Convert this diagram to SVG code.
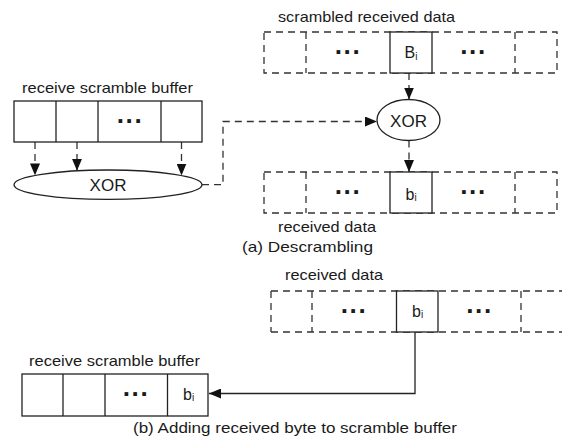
<svg xmlns="http://www.w3.org/2000/svg" width="562" height="442" viewBox="0 0 562 442">
<style>
.bg{fill:#fff}
.s{fill:none;stroke:#222;stroke-width:1.3}
.cell{fill:#fff;stroke:#222;stroke-width:1.3}
.d{fill:none;stroke:#333;stroke-width:1.3;stroke-dasharray:7 5}
.t{font-family:"Liberation Sans",Arial,sans-serif;font-size:15px;fill:#1a1a1a}
.big{font-size:16px}
.xor{font-size:17px}
.dots{font-family:"Liberation Sans",Arial,sans-serif;font-weight:bold;font-size:26px;letter-spacing:0.2px;fill:#1a1a1a;text-anchor:middle}
.c{text-anchor:middle}
.sub{font-size:10px}
</style>
<defs>
<marker id="ah" markerUnits="userSpaceOnUse" markerWidth="12" markerHeight="10" refX="12" refY="5" orient="auto">
<path d="M0,0 L12,5 L0,10 z" fill="#111"/>
</marker>
</defs>
<rect class="bg" x="0" y="0" width="562" height="442"/>

<g id="connectors">
<path class="d" d="M35,142 V175.4" marker-end="url(#ah)"/>
<path class="d" d="M77,142 V170.8" marker-end="url(#ah)"/>
<path class="d" d="M181.5,142 V175.5" marker-end="url(#ah)"/>
<path class="d" d="M202,184.7 H223 V121.5 H377" marker-end="url(#ah)"/>
<path class="d" d="M409,73 V99.5" marker-end="url(#ah)"/>
<path class="d" d="M409,140.5 V172" marker-end="url(#ah)"/>
<path class="s" d="M415,332 V393.5 H209" marker-end="url(#ah)"/>
</g>

<g id="scrambled-received-data">
<text class="t" x="278" y="22" textLength="177" lengthAdjust="spacingAndGlyphs">scrambled received data</text>
<rect class="d" x="264" y="32" width="293" height="41"/>
<line class="d" x1="306" y1="32" x2="306" y2="73"/>
<line class="d" x1="515" y1="32" x2="515" y2="73"/>
<text class="dots" x="348" y="61">···</text>
<text class="dots" x="473.5" y="61">···</text>
<rect class="cell" x="390" y="32" width="42" height="41"/>
<text class="t big" x="404.5" y="58.3">B<tspan class="sub" dy="1.2">i</tspan></text>
</g>

<g id="xor-top">
<ellipse class="cell" cx="408.5" cy="120" rx="31.5" ry="20.5"/>
<text class="t c xor" x="408.5" y="126.5">XOR</text>
</g>

<g id="received-data-a">
<rect class="d" x="264" y="172" width="293" height="41"/>
<line class="d" x1="306" y1="172" x2="306" y2="213"/>
<line class="d" x1="515" y1="172" x2="515" y2="213"/>
<text class="dots" x="348" y="201">···</text>
<text class="dots" x="473.5" y="201">···</text>
<rect class="cell" x="390" y="172" width="42" height="41"/>
<text class="t big" x="405.5" y="200">b<tspan class="sub" dy="1">i</tspan></text>
<text class="t" x="278" y="232" textLength="98" lengthAdjust="spacingAndGlyphs">received data</text>
</g>

<g id="caption-a">
<text class="t" x="242" y="252" textLength="131" lengthAdjust="spacingAndGlyphs">(a) Descrambling</text>
</g>

<g id="receive-scramble-buffer-a">
<text class="t" x="22" y="93" textLength="171" lengthAdjust="spacingAndGlyphs">receive scramble buffer</text>
<rect class="cell" x="14" y="101" width="188" height="41"/>
<line class="s" x1="56" y1="101" x2="56" y2="142"/>
<line class="s" x1="98" y1="101" x2="98" y2="142"/>
<line class="s" x1="161" y1="101" x2="161" y2="142"/>
<text class="dots" x="130" y="130">···</text>
</g>

<g id="xor-left">
<ellipse class="cell" cx="108" cy="184.7" rx="94" ry="14.7"/>
<text class="t c xor" x="108" y="190.8">XOR</text>
</g>

<g id="received-data-b">
<text class="t" x="285" y="280" textLength="98" lengthAdjust="spacingAndGlyphs">received data</text>
<line class="d" x1="271" y1="291" x2="562" y2="291"/>
<line class="d" x1="271" y1="332" x2="562" y2="332"/>
<line class="d" x1="271" y1="291" x2="271" y2="332"/>
<line class="d" x1="312" y1="291" x2="312" y2="332"/>
<line class="d" x1="521" y1="291" x2="521" y2="332"/>
<text class="dots" x="354" y="320">···</text>
<text class="dots" x="479.5" y="320">···</text>
<rect class="cell" x="396.5" y="291" width="41.5" height="41"/>
<text class="t big" x="412" y="317">b<tspan class="sub" dy="1">i</tspan></text>
</g>

<g id="receive-scramble-buffer-b">
<text class="t" x="29" y="366" textLength="171" lengthAdjust="spacingAndGlyphs">receive scramble buffer</text>
<rect class="cell" x="22" y="374" width="186" height="42"/>
<line class="s" x1="63" y1="374" x2="63" y2="416"/>
<line class="s" x1="105" y1="374" x2="105" y2="416"/>
<line class="s" x1="167.5" y1="374" x2="167.5" y2="416"/>
<text class="dots" x="136" y="403">···</text>
<text class="t big" x="183" y="400">b<tspan class="sub" dy="1">i</tspan></text>
</g>

<g id="caption-b">
<text class="t" x="133" y="433" textLength="324" lengthAdjust="spacingAndGlyphs">(b) Adding received byte to scramble buffer</text>
</g>
</svg>
